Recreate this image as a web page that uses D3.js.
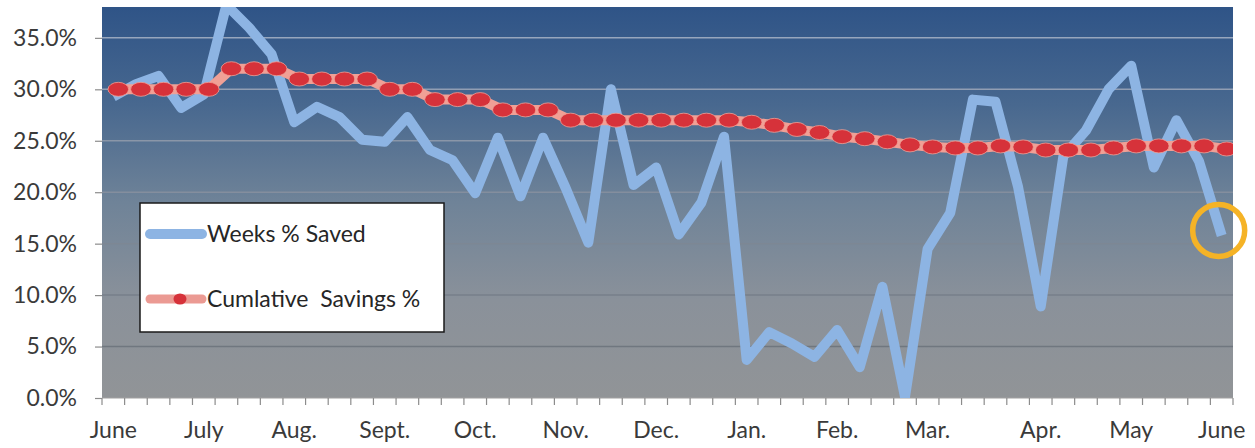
<!DOCTYPE html>
<html>
<head>
<meta charset="utf-8">
<script src="https://cdn.jsdelivr.net/npm/d3@7"></script>
<style>
  body { margin: 0; background: #fff; }
  svg { display: block; font-family: Lato, "Open Sans", sans-serif; }
</style>
</head>
<body>
<div id="chart"></div>
<script>
// weekly data, June to June (50 weeks)
const weeklySaved = [29.3, 30.5, 31.3, 28.2, 29.5, 38.2, 36.0, 33.4, 26.8, 28.3,
  27.3, 25.1, 24.9, 27.3, 24.1, 23.1, 19.9, 25.3, 19.6, 25.3,
  20.4, 15.1, 30.0, 20.7, 22.4, 15.9, 19.0, 25.4, 3.7, 6.4,
  5.3, 4.0, 6.6, 3.0, 10.8, 0.1, 14.5, 18.0, 29.0, 28.8,
  20.5, 8.9, 23.5, 26.0, 30.0, 32.3, 22.4, 27.0, 23.0, 15.8];
const cumulativeSavings = [30, 30, 30, 30, 30, 32, 32, 32, 31, 31,
  31, 31, 30, 30, 29, 29, 29, 28, 28, 28,
  27, 27, 27, 27, 27, 27, 27, 27, 26.8, 26.5,
  26.1, 25.8, 25.4, 25.2, 24.9, 24.6, 24.4, 24.3, 24.3, 24.5,
  24.4, 24.1, 24.1, 24.1, 24.3, 24.5, 24.5, 24.5, 24.5, 24.2];
const monthLabels = ["June", "July", "Aug.", "Sept.", "Oct.", "Nov.", "Dec.", "Jan.", "Feb.", "Mar.", "Apr.", "May", "June"];
const monthWeek = [0, 4, 8, 12, 16, 20, 24, 28, 32, 36, 41, 45, 49];
const yTicks = [0, 5, 10, 15, 20, 25, 30, 35];
const seriesNames = ["Weeks % Saved", "Cumlative  Savings %"];

const width = 1255, height = 448;
const plot = {left: 102, right: 1233, top: 7, bottom: 398};

const weeks = d3.range(weeklySaved.length);

const x = d3.scaleBand()
  .domain(weeks)
  .range([plot.left, plot.right]);
const cx = i => x(i) + x.bandwidth() / 2;

const y = d3.scaleLinear()
  .domain([0, 38])
  .range([plot.bottom, plot.top]);

const svg = d3.select("#chart").append("svg")
  .attr("width", width)
  .attr("height", height);

const defs = svg.append("defs");
const grad = defs.append("linearGradient")
  .attr("id", "bg").attr("x1", 0).attr("y1", 0).attr("x2", 0).attr("y2", 1);
grad.selectAll("stop")
  .data([[0, "#2f5487"], [0.25, "#48688f"], [0.5, "#6f8398"], [0.75, "#8a919a"], [1, "#919497"]])
  .join("stop")
  .attr("offset", d => d[0])
  .attr("stop-color", d => d[1]);

defs.append("clipPath").attr("id", "plotclip")
  .append("rect")
  .attr("x", plot.left).attr("y", plot.top)
  .attr("width", plot.right - plot.left)
  .attr("height", plot.bottom - plot.top);

// plot area
svg.append("rect")
  .attr("x", plot.left).attr("y", plot.top)
  .attr("width", plot.right - plot.left)
  .attr("height", plot.bottom - plot.top)
  .attr("fill", "url(#bg)");

// gridlines: light on the dark top, darker on the grey bottom
const gridColor = d3.interpolateRgb("#6a6f75", "#97a6bd");
svg.append("g")
  .selectAll("line")
  .data(yTicks.filter(d => d > 0))
  .join("line")
  .attr("x1", plot.left).attr("x2", plot.right)
  .attr("y1", d => y(d)).attr("y2", d => y(d))
  .attr("stroke", d => gridColor(d / 35))
  .attr("stroke-width", 1.5);

// y axis
const yAxis = svg.append("g")
  .attr("transform", `translate(${plot.left},0)`)
  .call(d3.axisLeft(y).tickValues(yTicks).tickFormat(d => d.toFixed(1) + "%").tickSize(7).tickPadding(18));
yAxis.select(".domain").remove();
yAxis.selectAll(".tick line").attr("stroke", "#8c8c8c").attr("stroke-width", 1.2);
yAxis.selectAll(".tick text")
  .attr("fill", "#3a3a3a")
  .style("font-size", "23px")
  .style("font-family", "Lato, sans-serif");

// x axis: ticks between weeks
const xg = svg.append("g");
xg.append("line")
  .attr("x1", plot.left).attr("x2", plot.right)
  .attr("y1", plot.bottom).attr("y2", plot.bottom)
  .attr("stroke", "#a0a0a0").attr("stroke-width", 1);
xg.selectAll("line.tk")
  .data(weeks.concat([weeks.length]))
  .join("line")
  .attr("class", "tk")
  .attr("x1", d => d < weeks.length ? x(d) : plot.right)
  .attr("x2", d => d < weeks.length ? x(d) : plot.right)
  .attr("y1", plot.bottom).attr("y2", plot.bottom + 7)
  .attr("stroke", "#8c8c8c").attr("stroke-width", 1.2);
xg.selectAll("text")
  .data(monthLabels)
  .join("text")
  .attr("x", (d, i) => cx(monthWeek[i]))
  .attr("y", 438)
  .attr("text-anchor", "middle")
  .attr("fill", "#3a3a3a")
  .style("font-size", "23px")
  .text(d => d);

// series
const data = svg.append("g").attr("clip-path", "url(#plotclip)");

const lineWeekly = d3.line()
  .x((d, i) => cx(i))
  .y(d => y(d));

data.append("path")
  .datum(weeklySaved)
  .attr("d", lineWeekly)
  .attr("fill", "none")
  .attr("stroke", "#8db4e3")
  .attr("stroke-width", 10)
  .attr("stroke-linejoin", "round")
  .attr("stroke-linecap", "butt");

// the cumulative series sits a few pixels right of the weekly one in the original
const cum = data.append("g").attr("transform", "translate(5,0)");
cum.append("path")
  .datum(cumulativeSavings)
  .attr("d", lineWeekly)
  .attr("fill", "none")
  .attr("stroke", "#f0a096")
  .attr("stroke-width", 10)
  .attr("stroke-linejoin", "round");

cum.selectAll("ellipse")
  .data(cumulativeSavings)
  .join("ellipse")
  .attr("cx", (d, i) => cx(i))
  .attr("cy", d => y(d))
  .attr("rx", 10.3)
  .attr("ry", 7)
  .attr("fill", "#d6323a")
  .attr("stroke", "#f0a096")
  .attr("stroke-width", 0.8);

// highlight of the latest week
const last = weeklySaved.length - 1;
svg.append("circle")
  .attr("cx", cx(last) - 3)
  .attr("cy", y(weeklySaved[last]) - 5)
  .attr("r", 26)
  .attr("fill", "none")
  .attr("stroke", "#f5b326")
  .attr("stroke-width", 5.5);

// legend
const lg = svg.append("g");
lg.append("rect")
  .attr("x", 140).attr("y", 203)
  .attr("width", 304).attr("height", 129)
  .attr("fill", "#fff")
  .attr("stroke", "#1a1a1a")
  .attr("stroke-width", 1.5);

const rows = [234, 299];
lg.append("line")
  .attr("x1", 150).attr("x2", 202)
  .attr("y1", rows[0]).attr("y2", rows[0])
  .attr("stroke", "#8db4e3").attr("stroke-width", 10)
  .attr("stroke-linecap", "round");
lg.append("line")
  .attr("x1", 150).attr("x2", 202)
  .attr("y1", rows[1]).attr("y2", rows[1])
  .attr("stroke", "#eb9a93").attr("stroke-width", 9)
  .attr("stroke-linecap", "round");
lg.append("ellipse")
  .attr("cx", 180).attr("cy", rows[1])
  .attr("rx", 6.5).attr("ry", 5.5)
  .attr("fill", "#d6323a");

lg.selectAll("text")
  .data(seriesNames)
  .join("text")
  .attr("x", 207)
  .attr("y", (d, i) => rows[i])
  .attr("dy", "0.35em")
  .attr("fill", "#262626")
  .style("font-size", "23px")
  .style("white-space", "pre")
  .text(d => d);
</script>
</body>
</html>
